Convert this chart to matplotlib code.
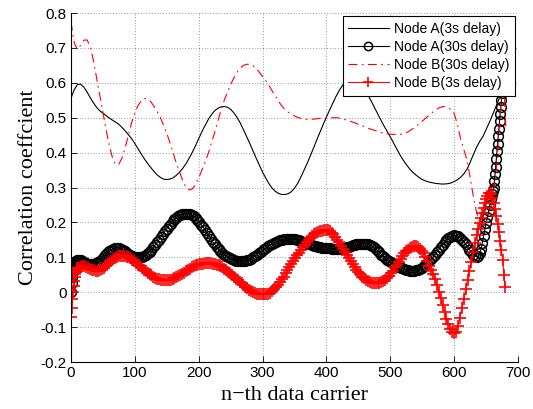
import matplotlib
matplotlib.use("Agg")
import matplotlib.pyplot as plt
import numpy as np

plt.rcParams["font.family"] = ["Liberation Sans", "DejaVu Sans"]

# ---- data ----
# Node A (3s delay), solid black
x_a3 = np.r_[np.arange(0, 680, 5), 678]
y_a3 = [
    0.556, 0.580, 0.595, 0.596, 0.588, 0.574, 0.558, 0.543, 0.530, 0.520,
    0.513, 0.506, 0.499, 0.493, 0.487, 0.481, 0.472, 0.462, 0.451, 0.440,
    0.426, 0.411, 0.396, 0.382, 0.369, 0.357, 0.346, 0.336, 0.329, 0.324,
    0.323, 0.324, 0.328, 0.335, 0.344, 0.355, 0.368, 0.384, 0.401, 0.420,
    0.440, 0.460, 0.478, 0.495, 0.509, 0.520, 0.527, 0.531, 0.532, 0.530,
    0.524, 0.514, 0.501, 0.485, 0.466, 0.446, 0.426, 0.405, 0.384, 0.364,
    0.344, 0.327, 0.311, 0.298, 0.289, 0.283, 0.280, 0.280, 0.282, 0.288,
    0.298, 0.312, 0.330, 0.350, 0.370, 0.392, 0.414, 0.437, 0.459, 0.481,
    0.502, 0.522, 0.542, 0.561, 0.578, 0.592, 0.604, 0.612, 0.617, 0.617,
    0.612, 0.601, 0.585, 0.565, 0.548, 0.530, 0.512, 0.494, 0.477, 0.461,
    0.445, 0.428, 0.411, 0.394, 0.379, 0.366, 0.354, 0.344, 0.336, 0.329,
    0.323, 0.319, 0.316, 0.314, 0.312, 0.311, 0.310, 0.310, 0.311, 0.313,
    0.317, 0.322, 0.329, 0.339, 0.352, 0.372, 0.394, 0.415, 0.432, 0.446,
    0.466, 0.486, 0.508, 0.530, 0.553, 0.578, 0.600,
]

# Node A (30s delay), black circles
x_a30 = np.r_[np.arange(0, 12), np.arange(12, 637, 3), np.arange(638, 661, 2), np.arange(661, 676)]
y_a30 = [
    0.000, 0.025, 0.045, 0.060, 0.070, 0.077, 0.082, 0.086, 0.088, 0.090, 0.091, 0.091,
    .091, .091, .089, .086, .084, .082, .081, .081, .081, .083,
    .086, .090, .095, .100, .106, .112, .117, .121, .125, .127,
    .128, .127, .125, .122, .118, .113, .109, .106, .103, .101,
    .100, .100, .100, .102, .104, .107, .111, .116, .122, .129,
    .136, .143, .151, .159, .166, .174, .182, .189, .196, .203,
    .209, .214, .218, .221, .223, .225, .225, .225, .223, .221,
    .217, .213, .207, .201, .193, .186, .178, .169, .160, .152,
    .144, .137, .130, .124, .118, .113, .108, .104, .100, .097,
    .094, .092, .090, .089, .088, .088, .088, .089, .091, .093,
    .096, .100, .104, .107, .112, .116, .120, .124, .128, .132,
    .135, .139, .142, .145, .147, .149, .151, .152, .152, .153,
    .153, .153, .152, .152, .150, .149, .147, .145, .143, .141,
    .139, .137, .135, .133, .132, .130, .129, .128, .128, .127,
    .127, .126, .125, .125, .125, .125, .125, .126, .126, .127,
    .129, .130, .132, .134, .135, .137, .138, .139, .139, .139,
    .139, .138, .136, .133, .129, .124, .119, .114, .108, .103,
    .098, .093, .089, .086, .082, .079, .076, .073, .070, .068,
    .066, .064, .063, .062, .062, .062, .063, .065, .067, .070,
    .074, .078, .083, .089, .095, .101, .108, .115, .122, .130,
    .136, .143, .149, .154, .158, .161, .163, .162, .160, .156,
    .151, .145, .138, .130, .122, .115, .108, .104, .102,
    .104, .112, .124, .140, .160, .180, .199, .216, .233, .250, .266, .282,
    .290, .300, .318, .338, .360, .382, .404, .426, .448, .468,
    .490, .510, .530, .550, .570,
]

# Node B (30s delay), red dash-dot
x_b30 = np.r_[np.arange(0, 605, 5), 605, 610, 615, 620, 625, 630, 635, 640, 645,
              650, 655, 660, 665, 668, 671, 674, 677, 679, 681]
y_b30 = [
    0.775, 0.715, 0.695, 0.708, 0.722, 0.723, 0.705, 0.665, 0.615, 0.565,
    0.515, 0.465, 0.420, 0.385, 0.365, 0.367, 0.385, 0.415, 0.450, 0.486,
    0.515, 0.535, 0.548, 0.555, 0.554, 0.546, 0.532, 0.517, 0.500, 0.478,
    0.455, 0.428, 0.398, 0.369, 0.344, 0.320, 0.301, 0.293, 0.296, 0.309,
    0.327, 0.350, 0.373, 0.398, 0.428, 0.458, 0.490, 0.522, 0.550, 0.573,
    0.595, 0.614, 0.630, 0.642, 0.650, 0.653, 0.653, 0.649, 0.641, 0.630,
    0.618, 0.606, 0.592, 0.577, 0.562, 0.547, 0.534, 0.524, 0.516, 0.510,
    0.505, 0.501, 0.498, 0.496, 0.495, 0.495, 0.496, 0.497, 0.498, 0.499,
    0.499, 0.500, 0.500, 0.500, 0.499, 0.497, 0.494, 0.491, 0.488, 0.485,
    0.481, 0.478, 0.474, 0.470, 0.467, 0.464, 0.461, 0.458, 0.456, 0.454,
    0.453, 0.452, 0.452, 0.452, 0.454, 0.457, 0.462, 0.468, 0.475, 0.482,
    0.490, 0.498, 0.506, 0.514, 0.521, 0.527, 0.531, 0.532, 0.530, 0.523,
    0.512,
    0.482, 0.440, 0.410, 0.379, 0.330, 0.275, 0.230, 0.200, 0.190, 0.200,
    0.225, 0.265, 0.330, 0.400, 0.480, 0.560, 0.590, 0.550, 0.470,
]

# Node B (3s delay), red plus
x_b3 = np.r_[np.arange(0, 12), np.arange(12, 637, 3), np.arange(638, 681, 2)]
y_b3 = [
    -0.070, -0.045, -0.020, 0.000, 0.018, 0.032, 0.043, 0.052, 0.059, 0.064, 0.068, 0.069,
    .070, .073, .074, .074, .072, .069, .067, .065, .063, .062,
    .062, .064, .067, .070, .075, .079, .084, .089, .094, .098,
    .101, .103, .105, .105, .104, .102, .100, .097, .093, .088,
    .084, .079, .074, .069, .065, .060, .056, .052, .048, .044,
    .041, .039, .037, .036, .035, .035, .035, .035, .036, .038,
    .041, .043, .046, .049, .053, .056, .060, .064, .067, .071,
    .074, .077, .079, .081, .082, .082, .083, .083, .083, .083,
    .082, .081, .079, .077, .074, .071, .067, .063, .058, .054,
    .049, .044, .039, .034, .030, .025, .020, .016, .012, .007,
    .004, .001, -.002, -.004, -.005, -.006, -.006, -.006, -.006, -.004,
    -.001, .004, .009, .015, .022, .029, .037, .045, .054, .063,
    .072, .081, .090, .098, .106, .113, .121, .129, .136, .144,
    .150, .156, .162, .166, .170, .173, .175, .176, .177, .177,
    .177, .175, .171, .166, .159, .151, .143, .133, .124, .115,
    .106, .097, .088, .080, .072, .065, .058, .051, .045, .040,
    .035, .031, .028, .026, .025, .025, .025, .026, .028, .031,
    .035, .041, .047, .055, .062, .071, .079, .087, .096, .104,
    .111, .117, .122, .126, .129, .131, .131, .129, .125, .119,
    .111, .100, .088, .076, .064, .051, .038, .021, .002, -.018,
    -.038, -.058, -.077, -.092, -.105, -.114, -.118, -.113, -.097, -.073,
    -.046, -.020, .008, .034, .060, .087, .115, .142, .165,
    .180, .197, .213, .228, .242, .255, .266, .276, .283, .285,
    .280, .269, .255, .238, .218, .196, .172, .146, .120, .092,
    .050, .015,
]

labels = ["Node A(3s delay)", "Node A(30s delay)", "Node B(30s delay)", "Node B(3s delay)"]

fig = plt.figure(figsize=(5.33, 4.09), dpi=100)
ax = fig.add_axes([0.1332, 0.1149, 0.8387, 0.8533])

ax.plot(x_a3, y_a3, color="k", linewidth=0.8, label=labels[0])
ax.plot(x_a30, y_a30, color="k", linestyle="-", linewidth=0.8, marker="o",
        markersize=7, markerfacecolor="none", markeredgewidth=1.1, label=labels[1])
ax.plot(x_b30, y_b30, color="r", linewidth=0.8, linestyle=(0, (8, 4, 1.5, 4)),
        label=labels[2])
ax.plot(x_b3, y_b3, color="r", linestyle="-", linewidth=0.8, marker="+",
        markersize=8, markeredgewidth=1.2, label=labels[3])

ax.set_xlim(0, 700)
ax.set_ylim(-0.2, 0.8)
yt = np.round(np.arange(-0.2, 0.81, 0.1), 1)
ax.set_xticks(np.arange(0, 701, 100))
ax.set_yticks(yt)
ax.set_yticklabels(["%g" % v for v in yt])

ax.spines["top"].set_visible(False)
ax.spines["right"].set_visible(False)
ax.spines["left"].set_linewidth(0.8)
ax.spines["bottom"].set_linewidth(0.8)
ax.tick_params(direction="in", length=4, width=0.6, labelsize=11, pad=3)

ax.grid(True, linestyle=(0, (1, 3)), color="k", linewidth=0.5, alpha=0.75)
ax.set_axisbelow(True)

ax.set_xlabel("n\u2212th data carrier", family="Liberation Serif", fontsize=16, labelpad=4)
ax.set_ylabel("Correlation coeffcient", family="Liberation Serif", fontsize=16, labelpad=2)

leg = ax.legend(loc="upper right", bbox_to_anchor=(0.9933, 0.9914), borderaxespad=0,
                fancybox=False, edgecolor="k", framealpha=1, fontsize=10,
                handlelength=2.9, handletextpad=0.4, labelspacing=0.3,
                borderpad=0.4, numpoints=1, markerscale=0.85)
leg.get_frame().set_linewidth(0.8)

fig.savefig("out.png", dpi=100)
